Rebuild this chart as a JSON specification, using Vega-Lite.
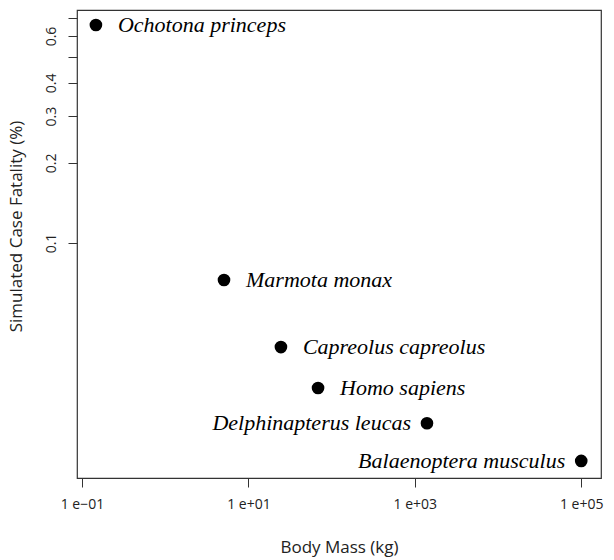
{
  "$schema": "https://vega.github.io/schema/vega-lite/v6.json",
  "width": 524,
  "height": 468,
  "autosize": "none",
  "padding": {"left": 77, "top": 10, "right": 13, "bottom": 82},
  "background": "white",
  "config": {
    "view": {"stroke": "#333", "strokeWidth": 1.2},
    "axis": {
      "domain": false,
      "grid": false,
      "tickColor": "#333",
      "tickSize": 9,
      "labelFont": "Open Sans",
      "labelColor": "#222",
      "labelFontSize": 14,
      "titleFont": "Open Sans",
      "titleFontWeight": "normal",
      "titleColor": "#222",
      "titleFontSize": 17
    }
  },
  "data": {
    "values": [
      {"species": "Ochotona princeps", "mass": 0.147, "fatality": 0.66},
      {"species": "Marmota monax", "mass": 5.09, "fatality": 0.0726},
      {"species": "Capreolus capreolus", "mass": 24.6, "fatality": 0.0406},
      {"species": "Homo sapiens", "mass": 68.7, "fatality": 0.0285},
      {"species": "Delphinapterus leucas", "mass": 1400, "fatality": 0.021},
      {"species": "Balaenoptera musculus", "mass": 100000, "fatality": 0.01515}
    ]
  },
  "encoding": {
    "x": {
      "field": "mass",
      "type": "quantitative",
      "scale": {"type": "log", "domain": [0.0871, 172800], "nice": false},
      "axis": {
        "title": "Body Mass (kg)",
        "values": [0.1, 10, 1000, 100000],
        "labelExpr": "datum.value < 1 ? '1  e\u221201' : datum.value < 100 ? '1  e+01' : datum.value < 10000 ? '1  e+03' : '1  e+05'",
        "labelPadding": 10,
        "titleY": 69,
        "titleBaseline": "middle"
      }
    },
    "y": {
      "field": "fatality",
      "type": "quantitative",
      "scale": {"type": "log", "domain": [0.01307, 0.7516], "nice": false},
      "axis": {
        "title": "Simulated Case Fatality (%)",
        "values": [0.1, 0.2, 0.3, 0.4, 0.5, 0.6, 0.7],
        "labelExpr": "(datum.value > 0.45 && datum.value < 0.55) || datum.value > 0.65 ? '' : format(datum.value, '.1f')",
        "labelAngle": -90,
        "labelAlign": "center",
        "labelBaseline": "bottom",
        "labelPadding": 10,
        "titleX": -61,
        "titleY": 216,
        "titleBaseline": "middle"
      }
    }
  },
  "layer": [
    {
      "mark": {"type": "circle", "size": 160, "color": "black", "opacity": 1}
    },
    {
      "transform": [{"filter": {"not": {"field": "species", "oneOf": ["Delphinapterus leucas", "Balaenoptera musculus"]}}}],
      "mark": {"type": "text", "align": "left", "baseline": "middle", "dx": 22, "font": "Liberation Serif", "fontStyle": "italic", "fontSize": 22, "color": "black"},
      "encoding": {"text": {"field": "species"}}
    },
    {
      "transform": [{"filter": {"field": "species", "oneOf": ["Delphinapterus leucas", "Balaenoptera musculus"]}}],
      "mark": {"type": "text", "align": "right", "baseline": "middle", "dx": -16, "font": "Liberation Serif", "fontStyle": "italic", "fontSize": 22, "color": "black"},
      "encoding": {"text": {"field": "species"}}
    }
  ]
}
